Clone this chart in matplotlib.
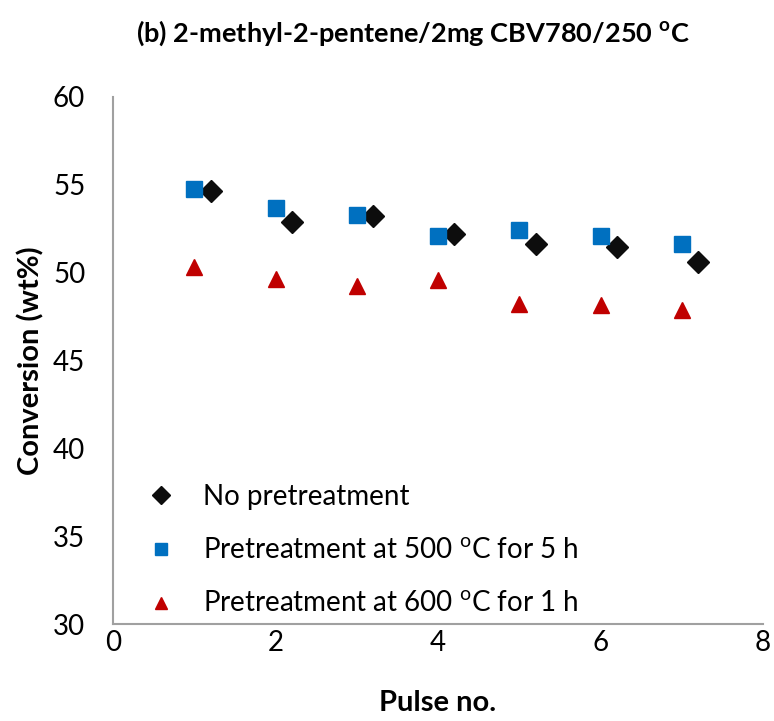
import matplotlib
matplotlib.use("Agg")
import matplotlib.pyplot as plt

plt.rcParams['font.family'] = ['Lato', 'DejaVu Sans']
plt.rcParams['mathtext.fontset'] = 'custom'
plt.rcParams['mathtext.rm'] = 'Lato'
plt.rcParams['mathtext.bf'] = 'Lato:bold'

pulses = [1, 2, 3, 4, 5, 6, 7]
no_pretreat = [54.66, 52.86, 53.24, 52.18, 51.65, 51.44, 50.62]
pre_500_5h = [54.74, 53.66, 53.26, 52.07, 52.41, 52.07, 51.61]
pre_600_1h = [50.33, 49.62, 49.24, 49.56, 48.23, 48.16, 47.85]

labels = ['No pretreatment',
          'Pretreatment at 500 $^{\\mathrm{o}}$C for 5 h',
          'Pretreatment at 600 $^{\\mathrm{o}}$C for 1 h']

fig = plt.figure(figsize=(7.74, 7.21), dpi=100)
ax = fig.add_axes([0.146, 0.1345, 0.8398, 0.731])

offset = 0.2
ax.plot([p + offset for p in pulses], no_pretreat, linestyle='none', marker='D',
        markersize=11.5, color='#0d0d0d', label=labels[0])
ax.plot(pulses, pre_500_5h, linestyle='none', marker='s',
        markersize=11, color='#0070c0', label=labels[1])
ax.plot(pulses, pre_600_1h, linestyle='none', marker='^',
        markersize=11, color='#c00000', label=labels[2])

ax.set_xlim(0, 8)
ax.set_ylim(30, 60)
ax.set_xticks([0, 2, 4, 6, 8])
ax.set_yticks([30, 35, 40, 45, 50, 55, 60])
ax.tick_params(axis='both', length=0, labelsize=20)
ax.tick_params(axis='y', pad=20)
ax.tick_params(axis='x', pad=4)
for side in ('top', 'right'):
    ax.spines[side].set_visible(False)
for side in ('left', 'bottom'):
    ax.spines[side].set_color('#a0a0a0')
    ax.spines[side].set_linewidth(1.5)

ax.set_xlabel('Pulse no.', fontsize=21, fontweight='bold', labelpad=25)
ax.set_ylabel('Conversion (wt%)', fontsize=21, fontweight='bold', labelpad=6)
fig.suptitle('(b) 2-methyl-2-pentene/2mg CBV780/250 $^{\\mathbf{o}}$C',
             fontsize=19.5, fontweight='bold', x=0.534, y=0.975)

ax.legend(loc='lower left', bbox_to_anchor=(0.01, -0.035), frameon=False,
          fontsize=20, handletextpad=0.9, handlelength=1.2, labelspacing=1.0,
          markerscale=0.8)

fig.savefig('out.png', dpi=100)
